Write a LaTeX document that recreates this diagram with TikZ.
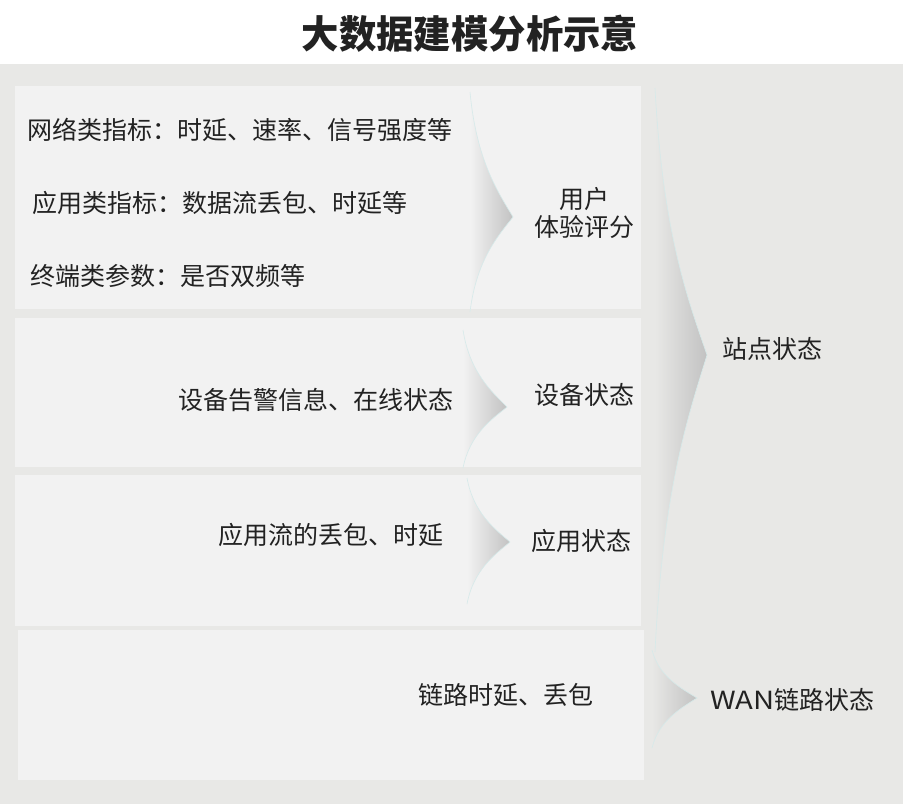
\documentclass[tikz,border=0pt]{standalone}
\usepackage{fontspec}
\setmainfont{Noto Sans CJK SC}
\definecolor{bgc}{RGB}{232,232,230}
\definecolor{boxc}{RGB}{242,242,242}
\definecolor{bracec}{RGB}{194,194,194}
\definecolor{edgec}{RGB}{214,234,234}
\definecolor{txtc}{RGB}{34,34,34}
\newcommand\mybrace[6]{%
  \shade[left color=#6, right color=bracec]
    (#1,#2) .. controls ({#1+0.15*(#3-#1)},{#2+0.55*(#4-#2)}) and ({#3-0.35*(#3-#1)},{#4-0.2*(#4-#2)}) .. (#3,#4)
    .. controls ({#3-0.35*(#3-#1)},{#4+0.2*(#5-#4)}) and ({#1+0.15*(#3-#1)},{#5-0.55*(#5-#4)}) .. (#1,#5) -- cycle;
  \draw[edgec, line width=0.6pt]
    (#1,#2) .. controls ({#1+0.15*(#3-#1)},{#2+0.55*(#4-#2)}) and ({#3-0.35*(#3-#1)},{#4-0.2*(#4-#2)}) .. (#3,#4)
    .. controls ({#3-0.35*(#3-#1)},{#4+0.2*(#5-#4)}) and ({#1+0.15*(#3-#1)},{#5-0.55*(#5-#4)}) .. (#1,#5);}
\tikzset{
  txt/.style={text=txtc, inner sep=0pt, font=\fontsize{25}{30}\selectfont},
  lefttxt/.style={txt, anchor=west},
  ctxt/.style={txt, anchor=center, align=center},
  panel/.style={fill=boxc},
}
\begin{document}
\begin{tikzpicture}[x=1pt,y=-1pt]
\useasboundingbox (0,0) rectangle (903,804);
\fill[white] (0,0) rectangle (903,64);
\fill[bgc] (0,64) rectangle (903,804);
% panels
\fill[panel] (15,86) rectangle (641,309);
\fill[panel] (15,318) rectangle (641,467);
\fill[panel] (15,475) rectangle (641,626);
\fill[panel] (18,630) rectangle (644,780);
% braces
\mybrace{470}{92}{513}{217}{312}{boxc}
\mybrace{463}{330}{507}{407}{468}{boxc}
\mybrace{467}{478}{510}{542}{604}{boxc}
\mybrace{652}{650}{697}{698}{748}{bgc}
\mybrace{655}{88}{707}{355}{652}{bgc}
% title
\node[text=txtc, inner sep=0pt, font=\fontsize{37}{40}\selectfont\bfseries] (title) at (470,34) {\scalebox{1.01}[1.04]{大数据建模分析示意}};
% texts
\node[lefttxt] (t1) at (27,130) {网络类指标：时延、速率、信号强度等};
\node[lefttxt] (t2) at (32,203) {应用类指标：数据流丢包、时延等};
\node[lefttxt] (t3) at (30,276) {终端类参数：是否双频等};
\node[ctxt] (ux) at (584,213) {用户\\[-2pt]体验评分};
\node[lefttxt] (t4) at (178,400) {设备告警信息、在线状态};
\node[ctxt] (dev) at (584,395) {设备状态};
\node[lefttxt] (t5) at (218,535) {应用流的丢包、时延};
\node[ctxt] (app) at (581,541) {应用状态};
\node[lefttxt] (t6) at (418,695) {链路时延、丢包};
\node[lefttxt] (wan) at (710,700) {\scalebox{1.17}[1]{WAN}链路状态};
\node[lefttxt] (site) at (722,349) {站点状态};
\end{tikzpicture}
\end{document}
